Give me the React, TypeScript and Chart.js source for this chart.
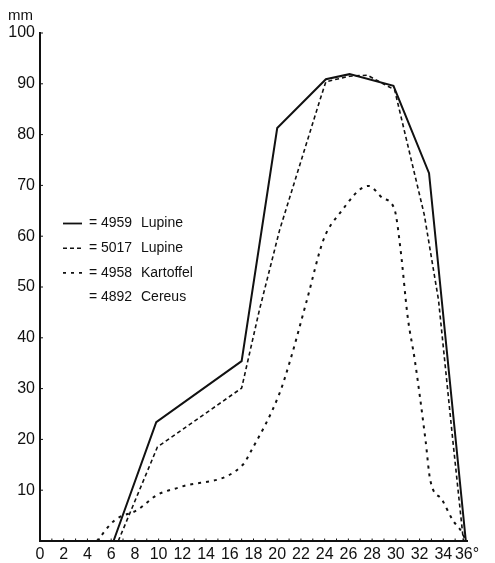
import React, { useEffect, useRef } from "react";
import { Chart, registerables } from "chart.js";

Chart.register(...registerables);

// ---- data (temperature °C -> growth mm) ----
const lupine4959X = [6.2, 9.8, 17.0, 20.0, 24.1, 26.1, 29.8, 32.8, 35.9];
const lupine4959Y = [0, 23.4, 35.4, 81.3, 90.9, 91.9, 89.6, 72.4, 0];

const lupine5017X = [6.6, 9.9, 17.0, 18.5, 20.2, 23.6, 24.1, 26.1, 27.6, 29.9, 32.4, 33.6, 34.8, 35.7];
const lupine5017Y = [0, 18.5, 30.1, 45.5, 61.2, 86.8, 90.4, 91.5, 91.7, 88.8, 64.2, 47.4, 19.9, 0];

const kartoffelX = [4.8, 6.3, 8.2, 9.9, 11.8, 17.1, 17.7, 20.2, 21.1, 22.5, 23.9, 25.3, 27.7, 28.9, 29.9, 30.4, 31.0, 31.6, 32.5, 32.9, 33.9, 34.8, 35.6, 35.9];
const kartoffelY = [0, 4.1, 6.1, 9.1, 10.6, 15.0, 17.3, 29.1, 35.6, 47.4, 59.3, 64.6, 69.9, 67.5, 65.2, 57.3, 44.1, 35.6, 19.9, 12.0, 8.1, 4.1, 1.6, 0];

const legendNumbers = ["4959", "5017", "4958", "4892"];
const legendNames = ["Lupine", "Lupine", "Kartoffel", "Cereus"];
const legendDashes: (number[] | null)[] = [[], [4, 3], [3, 5], null];

const xTickValues = [0, 2, 4, 6, 8, 10, 12, 14, 16, 18, 20, 22, 24, 26, 28, 30, 32, 34, 36];
const yTickValues = [10, 20, 30, 40, 50, 60, 70, 80, 90, 100];
const yUnit = "mm";
const xUnit = "°";

const FONT = "'Liberation Sans', Arial, sans-serif";

const toPts = (xs: number[], ys: number[]) => xs.map((x, i) => ({ x, y: ys[i] }));

const extrasPlugin = {
  id: "extras",
  afterDraw(chart: any) {
    const ctx = chart.ctx as CanvasRenderingContext2D;
    const xs = chart.scales.x;
    const ys = chart.scales.y;
    const area = chart.chartArea;
    ctx.save();
    ctx.strokeStyle = "#111";
    ctx.lineWidth = 1;
    // inner ticks
    for (const v of yTickValues) {
      const py = ys.getPixelForValue(v);
      ctx.beginPath();
      ctx.moveTo(area.left, py);
      ctx.lineTo(area.left + 3, py);
      ctx.stroke();
    }
    for (let v = 1; v < 36; v++) {
      const px = xs.getPixelForValue(v);
      ctx.beginPath();
      ctx.moveTo(px, area.bottom);
      ctx.lineTo(px, area.bottom - 2.5);
      ctx.stroke();
    }
    // unit label
    ctx.fillStyle = "#111";
    ctx.font = `15px ${FONT}`;
    ctx.textAlign = "left";
    ctx.textBaseline = "alphabetic";
    ctx.fillText(yUnit, 8, 20);
    // legend
    const lx = area.left + 23;
    const ly0 = ys.getPixelForValue(62.5);
    const rowH = 24.7;
    ctx.font = `14px ${FONT}`;
    ctx.textBaseline = "middle";
    legendNumbers.forEach((num, i) => {
      const y = ly0 + i * rowH;
      const dash = legendDashes[i];
      if (dash) {
        ctx.save();
        ctx.lineWidth = i === 0 ? 1.8 : 1.6;
        ctx.setLineDash(dash);
        ctx.beginPath();
        ctx.moveTo(lx, y);
        ctx.lineTo(lx + 19, y);
        ctx.stroke();
        ctx.restore();
      }
      ctx.fillText("=", lx + 26, y);
      ctx.fillText(num, lx + 38, y);
      ctx.fillText(legendNames[i], lx + 78, y);
    });
    ctx.restore();
  },
};

export default function App() {
  const ref = useRef<HTMLCanvasElement | null>(null);
  useEffect(() => {
    if (!ref.current) return;
    const chart = new Chart(ref.current, {
      type: "line",
      data: {
        datasets: [
          {
            label: "4959 Lupine",
            data: toPts(lupine4959X, lupine4959Y),
            borderColor: "#111",
            borderWidth: 2,
            pointRadius: 0,
            tension: 0,
            clip: false as any,
          },
          {
            label: "5017 Lupine",
            data: toPts(lupine5017X, lupine5017Y),
            borderColor: "#111",
            borderWidth: 1.6,
            borderDash: [4, 3],
            pointRadius: 0,
            tension: 0,
            clip: false as any,
          },
          {
            label: "4958 Kartoffel",
            data: toPts(kartoffelX, kartoffelY),
            borderColor: "#111",
            borderWidth: 2,
            borderDash: [3, 5],
            pointRadius: 0,
            cubicInterpolationMode: "monotone",
            clip: false as any,
          },
        ],
      },
      options: {
        animation: false,
        responsive: false,
        devicePixelRatio: 1,
        layout: { padding: { top: 33, right: 28, left: 0, bottom: 0 } },
        plugins: { legend: { display: false }, tooltip: { enabled: false } },
        scales: {
          x: {
            type: "linear",
            min: 0,
            max: 36,
            afterBuildTicks: (s: any) => {
              s.ticks = xTickValues.map((v) => ({ value: v }));
            },
            afterFit: (s: any) => {
              s.height = 22;
            },
            grid: { display: false, drawTicks: false },
            border: { display: true, color: "#111", width: 2 },
            ticks: {
              autoSkip: false,
              maxRotation: 0,
              padding: 4,
              color: "#111",
              font: { family: FONT, size: 16 },
              callback: (v: any) => (v === 36 ? `36${xUnit}` : String(v)),
            },
          },
          y: {
            type: "linear",
            min: 0,
            max: 100,
            afterBuildTicks: (s: any) => {
              s.ticks = yTickValues.map((v) => ({ value: v }));
            },
            afterFit: (s: any) => {
              s.width = 40;
            },
            grid: { display: false, drawTicks: false },
            border: { display: true, color: "#111", width: 2 },
            ticks: {
              padding: 5,
              color: "#111",
              font: { family: FONT, size: 16 },
              callback: (v: any) => String(v),
            },
          },
        },
      },
      plugins: [extrasPlugin],
    });
    return () => chart.destroy();
  }, []);
  return (
    <div style={{ position: "fixed", left: 0, top: 0, width: 495, height: 563, background: "#fff" }}>
      <canvas ref={ref} width={495} height={563} style={{ width: 495, height: 563, display: "block" }} />
    </div>
  );
}
